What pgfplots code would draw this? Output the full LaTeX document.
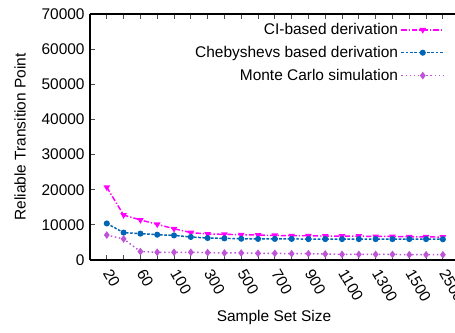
\documentclass[border=0pt]{standalone}
\usepackage{pgfplots}
\pgfplotsset{compat=1.18}
\usepackage{fontspec}
\setmainfont{Liberation Sans}
\definecolor{cimag}{RGB}{255,0,255}
\definecolor{chblue}{RGB}{0,101,180}
\definecolor{mcpurp}{RGB}{190,85,215}
\begin{document}
\fontsize{11.6}{14}\selectfont
\begin{tikzpicture}
\useasboundingbox (0,0) rectangle (341.25pt,249.75pt);
\begin{axis}[
  at={(67.5pt,54.75pt)}, anchor=south west,
  scale only axis, width=276pt, height=184.5pt,
  xmin=-1, xmax=20.9, ymin=0, ymax=70000,
  axis x line*=box, axis y line*=left,
  xtick={0,...,20},
  xticklabels={20,,60,,100,,300,,500,,700,,900,,1100,,1300,,1500,,2500},
  ytick={0,10000,...,70000},
  scaled ticks=false,
  yticklabel style={/pgf/number format/fixed, /pgf/number format/1000 sep={}},
  /pgf/number format/1000 sep={},
  /pgf/number format/assume math mode=true,
  tick label style={font=\fontsize{11.6}{14}\selectfont},
  xticklabel style={rotate=-60, anchor=west, xshift=3pt, yshift=-3.6pt},
  major tick length=3.5pt,
  tick style={black!70, line width=0.6pt},
  axis line style={line width=0.8pt},
  xlabel={Sample Set Size},
  ylabel={Reliable Transition Point},
  xlabel style={at={(axis description cs:0.5,0)}, anchor=center, yshift=-43.5pt},
  ylabel style={at={(axis description cs:-0.19,0.5)}, anchor=center},
  label style={font=\fontsize{11.6}{14}\selectfont},
  clip=false,
  legend style={at={(0.965,0.975)}, anchor=north east, draw=none, fill=none,
    legend cell align=right, row sep=3pt, inner sep=0pt,
    font=\fontsize{11.6}{14}\selectfont},
  legend plot pos=right,
  legend image code/.code={\draw[mark repeat=2,mark phase=2] plot coordinates {(0pt,0pt)(16pt,0pt)(32pt,0pt)};},
]
\addplot[color=cimag, line width=1.1pt, dash pattern=on 4pt off 1.5pt on 1pt off 1.5pt, mark=triangle*, mark options={solid, rotate=180, scale=0.9}]
coordinates {(0,20700)(1,12800)(2,11400)(3,10150)(4,8900)(5,7800)(6,7400)(7,7300)(8,7200)(9,7100)(10,7000)(11,6900)(12,6900)(13,6800)(14,6800)(15,6800)(16,6700)(17,6700)(18,6600)(19,6600)(20,6500)};
\addlegendentry{CI-based derivation}
\addplot[color=chblue, line width=1.1pt, dash pattern=on 2pt off 1.2pt, mark=*, mark options={solid, scale=0.85}]
coordinates {(0,10400)(1,7800)(2,7500)(3,7200)(4,7000)(5,6550)(6,6250)(7,6150)(8,6050)(9,6000)(10,6000)(11,6000)(12,5950)(13,5950)(14,5950)(15,5950)(16,5950)(17,5950)(18,5950)(19,5950)(20,5900)};
\addlegendentry{Chebyshevs based derivation}
\addplot[color=mcpurp, line width=1.1pt, dotted, mark=diamond*, mark options={solid, scale=1.0}]
coordinates {(0,7100)(1,6000)(2,2400)(3,2200)(4,2200)(5,2200)(6,2100)(7,2000)(8,2000)(9,1900)(10,1900)(11,1800)(12,1800)(13,1700)(14,1600)(15,1600)(16,1600)(17,1600)(18,1500)(19,1500)(20,1500)};
\addlegendentry{Monte Carlo simulation}
\end{axis}
\end{tikzpicture}
\end{document}
